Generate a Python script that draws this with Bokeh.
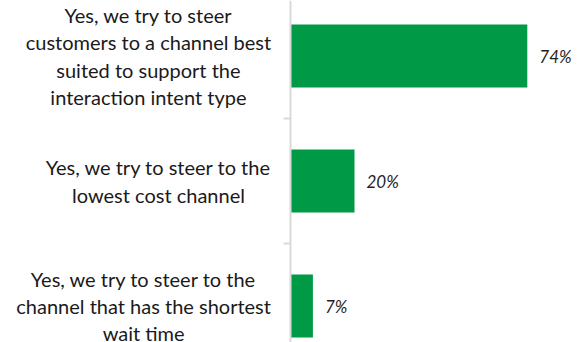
from bokeh.plotting import figure
from bokeh.models import Range1d, LinearAxis, FixedTicker, ColumnDataSource
from bokeh.core.properties import value
from bokeh.embed import file_html
from bokeh.resources import INLINE

categories = [
    "Yes, we try to steer\ncustomers to a channel best\nsuited to support the\ninteraction intent type",
    "Yes, we try to steer to the\nlowest cost channel",
    "Yes, we try to steer to the\nchannel that has the shortest\nwait time",
]
values = [74, 20, 7]
value_labels = ["74%", "20%", "7%"]

positions = list(range(len(categories)))
label_x = [-44.4, -41.25, -45.9]  # centre of each label block (data units)

src = ColumnDataSource(dict(
    y=positions, v=values, vl=value_labels, cat=categories, lx=label_x,
))

p = figure(width=586, height=342, output_backend="svg", toolbar_location=None,
           x_range=Range1d(-290 / 3.2, 296 / 3.2),
           y_range=Range1d(2.292, -0.444),
           min_border=0, x_axis_location=None, y_axis_location=None)
p.outline_line_color = None
p.grid.visible = False
p.background_fill_color = "white"
p.border_fill_color = "white"

p.hbar(y="y", left=0, right="v", height=0.504, source=src,
       fill_color="#009A46", line_color=None)

p.text(x="v", y="y", text="vl", source=src, x_offset=12,
       text_font=value("Lato"), text_font_style="italic", text_font_size="17px",
       text_color="#1f1f1f", text_align="left", text_baseline="middle")

p.text(x="lx", y="y", text="cat", source=src,
       text_font=value("Lato"), text_font_size="20px", text_line_height=1.14,
       text_color="#1a1a1a", text_align="center", text_baseline="middle")

ax = LinearAxis(fixed_location=0)
ax.ticker = FixedTicker(ticks=[p + 0.5 for p in positions])
ax.major_label_text_font_size = "0px"
ax.major_label_text_color = None
ax.axis_line_color = "#d9d9d9"
ax.axis_line_width = 2
ax.major_tick_line_color = "#d9d9d9"
ax.major_tick_line_width = 2
ax.major_tick_out = 7
ax.major_tick_in = 0
ax.minor_tick_line_color = None
p.add_layout(ax, "left")

open("out.html", "w").write(file_html(p, INLINE))
